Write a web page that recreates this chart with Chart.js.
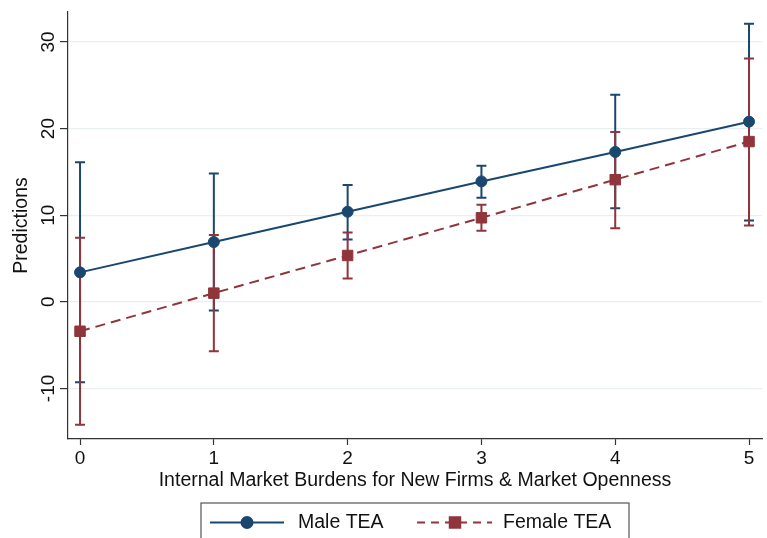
<!DOCTYPE html>
<html>
<head>
<meta charset="utf-8">
<title>Predictions by Internal Market Burdens</title>
<script src="https://cdn.jsdelivr.net/npm/chart.js@4/dist/chart.umd.min.js"></script>
<style>
  html, body { margin: 0; padding: 0; background: #ffffff; }
  #wrap { width: 767px; height: 538px; }
</style>
</head>
<body>
<div id="wrap"><canvas id="chart" width="767" height="538"></canvas></div>
<script>
// Predicted values with 95% confidence limits
const xValues    = [0, 1, 2, 3, 4, 5];
const maleTEA    = [3.4, 6.9, 10.4, 13.9, 17.3, 20.8];
const maleLow    = [-9.3, -1.0, 7.2, 12.0, 10.8, 9.4];
const maleHigh   = [16.1, 14.8, 13.5, 15.7, 23.9, 32.1];
const femaleTEA  = [-3.4, 1.0, 5.35, 9.7, 14.1, 18.5];
const femaleLow  = [-14.2, -5.7, 2.7, 8.2, 8.5, 8.8];
const femaleHigh = [7.4, 7.7, 8.0, 11.2, 19.6, 28.1];

const xTicks = [0, 1, 2, 3, 4, 5];
const yTicks = [-10, 0, 10, 20, 30];
const seriesNames = ['Male TEA', 'Female TEA'];
const xTitle = 'Internal Market Burdens for New Firms & Market Openness';
const yTitle = 'Predictions';

const NAVY = '#1a476f';
const MAROON = '#90353b';
const FONT = "'Liberation Sans', Arial, Helvetica, sans-serif";

Chart.defaults.font.family = FONT;
Chart.defaults.color = '#111111';

const toPoints = (ys) => xValues.map((x, i) => ({ x: x, y: ys[i] }));

// Vertical confidence-interval bars with caps, drawn beneath the lines
const errorBars = {
  id: 'errorBars',
  beforeDatasetsDraw(chart) {
    const { ctx, chartArea, scales: { x, y } } = chart;
    ctx.save();
    ctx.beginPath();
    ctx.rect(chartArea.left, chartArea.top, chartArea.right - chartArea.left, chartArea.bottom - chartArea.top);
    ctx.clip();
    chart.data.datasets.forEach((ds) => {
      ctx.strokeStyle = ds.borderColor;
      ctx.lineWidth = 2;
      ctx.setLineDash([]);
      ds.data.forEach((p, i) => {
        const px = x.getPixelForValue(p.x);
        const lo = y.getPixelForValue(ds.ciLow[i]);
        const hi = y.getPixelForValue(ds.ciHigh[i]);
        const cap = 5;
        ctx.beginPath();
        ctx.moveTo(px, lo); ctx.lineTo(px, hi);
        ctx.moveTo(px - cap, lo); ctx.lineTo(px + cap, lo);
        ctx.moveTo(px - cap, hi); ctx.lineTo(px + cap, hi);
        ctx.stroke();
      });
    });
    ctx.restore();
  }
};

// Boxed legend below the axis title: line sample with marker, then label
const boxedLegend = {
  id: 'boxedLegend',
  afterDraw(chart) {
    const { ctx } = chart;
    const top = 503, left = 201, right = 629, midY = 522.5;
    ctx.save();
    ctx.strokeStyle = '#555555';
    ctx.lineWidth = 1.2;
    ctx.strokeRect(left, top, right - left, 50);

    const items = [
      { ds: chart.data.datasets[0], x0: 210, x1: 284, mx: 247, tx: 298, dash: [] },
      { ds: chart.data.datasets[1], x0: 417, x1: 492, mx: 455, tx: 503, dash: [8, 6] }
    ];
    items.forEach((it) => {
      ctx.strokeStyle = it.ds.borderColor;
      ctx.fillStyle = it.ds.borderColor;
      ctx.lineWidth = 2;
      ctx.setLineDash(it.dash);
      ctx.beginPath();
      ctx.moveTo(it.x0, midY); ctx.lineTo(it.x1, midY);
      ctx.stroke();
      ctx.setLineDash([]);
      Chart.helpers.drawPoint(ctx, {
        pointStyle: it.ds.pointStyle,
        radius: it.ds.pointRadius,
        borderWidth: 1,
        rotation: 0
      }, it.mx, midY);
      ctx.fill();
      ctx.fillStyle = '#111111';
      ctx.font = '19.5px ' + FONT;
      ctx.textAlign = 'left';
      ctx.textBaseline = 'middle';
      ctx.fillText(it.ds.label, it.tx, midY);
    });
    ctx.restore();
  }
};

new Chart(document.getElementById('chart'), {
  type: 'line',
  data: {
    datasets: [
      {
        label: seriesNames[0],
        data: toPoints(maleTEA),
        ciLow: maleLow,
        ciHigh: maleHigh,
        borderColor: NAVY,
        backgroundColor: NAVY,
        borderWidth: 2,
        pointStyle: 'circle',
        pointRadius: 5.5,
        pointBorderWidth: 1,
        pointBackgroundColor: NAVY,
        pointBorderColor: NAVY,
        tension: 0
      },
      {
        label: seriesNames[1],
        data: toPoints(femaleTEA),
        ciLow: femaleLow,
        ciHigh: femaleHigh,
        borderColor: MAROON,
        backgroundColor: MAROON,
        borderWidth: 2,
        borderDash: [10, 6],
        pointStyle: 'rect',
        pointRadius: 7.4,
        pointBorderWidth: 1,
        pointBackgroundColor: MAROON,
        pointBorderColor: MAROON,
        tension: 0
      }
    ]
  },
  options: {
    responsive: false,
    animation: false,
    devicePixelRatio: 1,
    layout: { autoPadding: false, padding: { top: 12, right: 5, left: 0, bottom: 46 } },
    plugins: {
      legend: { display: false },
      tooltip: { enabled: false }
    },
    scales: {
      x: {
        type: 'linear',
        min: -0.09,
        max: 5.097,
        afterBuildTicks: (scale) => { scale.ticks = xTicks.map((v) => ({ value: v })); },
        afterFit: (scale) => { scale.height = 53; scale.paddingLeft = 0; scale.paddingRight = 0; },
        ticks: { font: { size: 19 }, padding: 2, maxRotation: 0, color: '#111111' },
        grid: { drawOnChartArea: false, drawTicks: true, tickLength: 6, tickColor: '#333333', tickWidth: 1.2 },
        border: { display: true, color: '#333333', width: 1.2 },
        title: { display: true, text: xTitle, font: { size: 19.5 }, padding: { top: 0, bottom: 0 }, color: '#111111' }
      },
      y: {
        type: 'linear',
        min: -15.84,
        max: 33.46,
        afterBuildTicks: (scale) => { scale.ticks = yTicks.map((v) => ({ value: v })); },
        afterFit: (scale) => { scale.width = 68; scale.paddingTop = 0; scale.paddingBottom = 0; },
        ticks: { font: { size: 19 }, padding: -2, minRotation: 90, maxRotation: 90, crossAlign: 'center', color: '#111111' },
        grid: { color: '#e8f0f2', lineWidth: 1.2, drawTicks: true, tickLength: 8, tickColor: '#333333', tickWidth: 1.2 },
        border: { display: true, color: '#333333', width: 1.2 },
        title: { display: true, text: yTitle, font: { size: 19.5 }, padding: { top: 10, bottom: 0 }, color: '#111111' }
      }
    }
  },
  plugins: [errorBars, boxedLegend]
});
</script>
</body>
</html>
